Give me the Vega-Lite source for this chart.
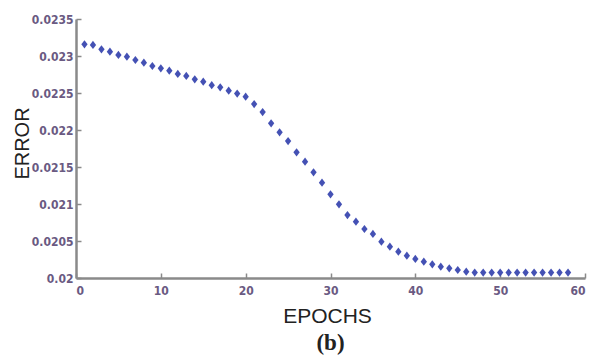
{
  "$schema": "https://vega.github.io/schema/vega-lite/v6.json",
  "width": 509,
  "height": 259,
  "autosize": {"type": "none"},
  "padding": {"left": 76, "top": 19, "right": 10, "bottom": 82},
  "background": "white",
  "title": {"text": "(b)", "orient": "bottom", "font": "Liberation Serif", "fontWeight": "bold", "fontSize": 23, "color": "#222222", "offset": 6, "anchor": "middle", "dx": 0},
  "config": {"view": {"stroke": null}},
  "data": {"values": [
    {"epoch": 1, "error": 0.023158}, {"epoch": 2, "error": 0.023149}, {"epoch": 3, "error": 0.023091},
    {"epoch": 4, "error": 0.023058}, {"epoch": 5, "error": 0.023014}, {"epoch": 6, "error": 0.022991},
    {"epoch": 7, "error": 0.022946}, {"epoch": 8, "error": 0.02291}, {"epoch": 9, "error": 0.022865},
    {"epoch": 10, "error": 0.022834}, {"epoch": 11, "error": 0.022801}, {"epoch": 12, "error": 0.022757},
    {"epoch": 13, "error": 0.02273}, {"epoch": 14, "error": 0.022685}, {"epoch": 15, "error": 0.022653},
    {"epoch": 16, "error": 0.022605}, {"epoch": 17, "error": 0.022577}, {"epoch": 18, "error": 0.022531},
    {"epoch": 19, "error": 0.022492}, {"epoch": 20, "error": 0.02245}, {"epoch": 21, "error": 0.022351},
    {"epoch": 22, "error": 0.022243}, {"epoch": 23, "error": 0.022091}, {"epoch": 24, "error": 0.021969},
    {"epoch": 25, "error": 0.021851}, {"epoch": 26, "error": 0.021699}, {"epoch": 27, "error": 0.021572},
    {"epoch": 28, "error": 0.021428}, {"epoch": 29, "error": 0.021288}, {"epoch": 30, "error": 0.021131},
    {"epoch": 31, "error": 0.020996}, {"epoch": 32, "error": 0.020851}, {"epoch": 33, "error": 0.020761},
    {"epoch": 34, "error": 0.020662}, {"epoch": 35, "error": 0.020595}, {"epoch": 36, "error": 0.020491},
    {"epoch": 37, "error": 0.020423}, {"epoch": 38, "error": 0.020355}, {"epoch": 39, "error": 0.020301},
    {"epoch": 40, "error": 0.020257}, {"epoch": 41, "error": 0.02022}, {"epoch": 42, "error": 0.020185},
    {"epoch": 43, "error": 0.020153}, {"epoch": 44, "error": 0.020131}, {"epoch": 45, "error": 0.020108},
    {"epoch": 46, "error": 0.020085}, {"epoch": 47, "error": 0.020074}, {"epoch": 48, "error": 0.020073},
    {"epoch": 49, "error": 0.020073}, {"epoch": 50, "error": 0.020074}, {"epoch": 51, "error": 0.020073},
    {"epoch": 52, "error": 0.020074}, {"epoch": 53, "error": 0.020073}, {"epoch": 54, "error": 0.020074},
    {"epoch": 55, "error": 0.020073}, {"epoch": 56, "error": 0.020074}, {"epoch": 57, "error": 0.020073},
    {"epoch": 58, "error": 0.020074}
  ]},
  "mark": {"type": "point", "filled": true, "shape": "M0,-1.3L1,0L0,1.3L-1,0Z", "size": 40, "color": "#3a48b0", "opacity": 0.95},
  "encoding": {
    "x": {
      "field": "epoch", "type": "quantitative",
      "scale": {"domain": [0, 60], "nice": false},
      "axis": {
        "title": "EPOCHS", "values": [0, 10, 20, 30, 40, 50, 60], "format": "d",
        "grid": false, "domainColor": "#8a8a8a", "domainWidth": 2.5, "tickColor": "#8a8a8a", "tickWidth": 1.5, "tickSize": -5,
        "labelFont": "Liberation Sans Narrow, DejaVu Sans Condensed", "labelFontWeight": "bold", "labelFontSize": 12, "labelColor": "#6a5a82", "labelPadding": 12,
        "titleFont": "Liberation Sans", "titleFontWeight": "normal", "titleFontSize": 21, "titleColor": "#222222", "titlePadding": 9, "titleX": 251
      }
    },
    "y": {
      "field": "error", "type": "quantitative",
      "scale": {"domain": [0.02, 0.0235], "nice": false, "zero": false},
      "axis": {
        "title": "ERROR", "values": [0.02, 0.0205, 0.021, 0.0215, 0.022, 0.0225, 0.023, 0.0235], "format": "~g",
        "grid": false, "domainColor": "#8a8a8a", "domainWidth": 2.5, "tickColor": "#8a8a8a", "tickWidth": 1.5, "tickSize": -5,
        "labelFont": "Liberation Sans Narrow, DejaVu Sans Condensed", "labelFontWeight": "bold", "labelFontSize": 12, "labelColor": "#6a5a82", "labelPadding": 8,
        "titleFont": "Liberation Sans", "titleFontWeight": "normal", "titleFontSize": 20, "titleColor": "#222222", "titleX": -44, "titleY": 124
      }
    }
  }
}
